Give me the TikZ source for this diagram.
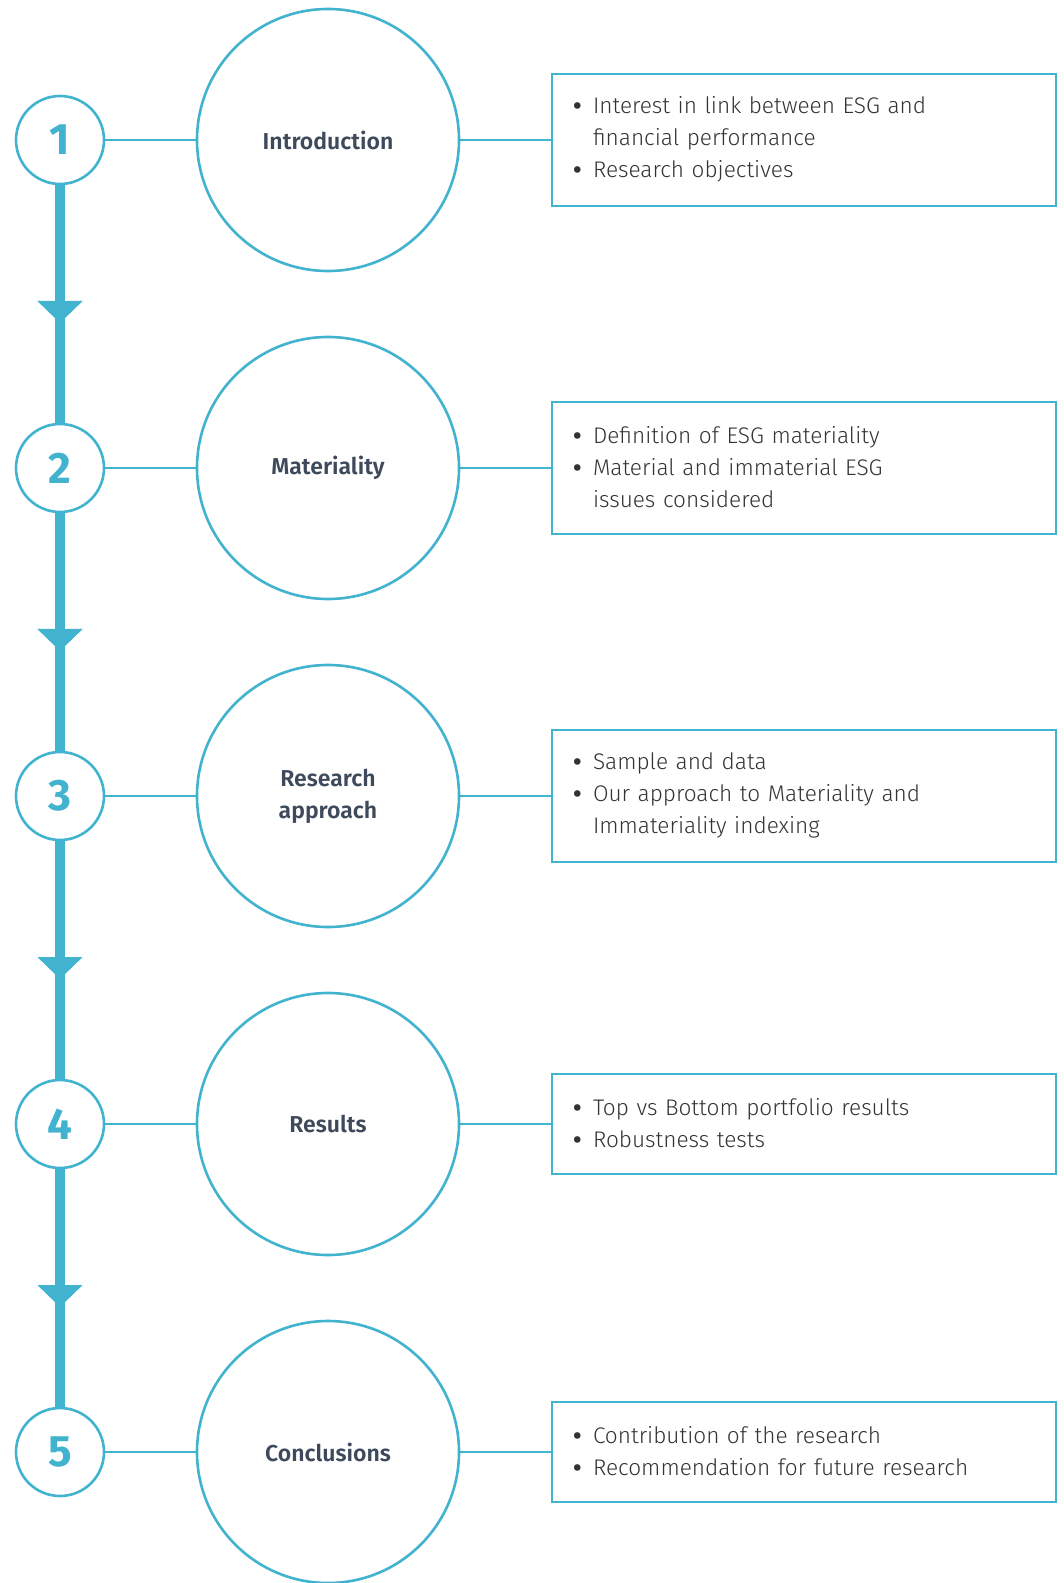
\documentclass[tikz,border=0pt]{standalone}
\usepackage{fontspec}
\setmainfont{Fira Sans}
\newfontfamily\lightfont{Fira Sans Light}
\newfontfamily\semifont{Fira Sans SemiBold}
\usetikzlibrary{arrows.meta,decorations.markings}

\definecolor{esgblue}{HTML}{41B3CE}
\definecolor{slate}{HTML}{3E4A5B}
\definecolor{bodytext}{HTML}{333333}

\def\rowsep{328}
\newcommand{\bitem}[1]{\par\noindent\hangindent=10pt\hangafter=1\makebox[10pt][l]{\raisebox{-0.2pt}{\fontsize{12.5}{16}\semifont\textbullet}}#1\par}

\begin{document}
\begin{tikzpicture}[x=0.5pt,y=-0.5pt]
    \tikzstyle{number}=[circle,draw=esgblue,line width=1.3pt,minimum size=44pt,inner sep=0pt,text=esgblue,font=\bfseries\fontsize{22}{22}\selectfont]
    \tikzstyle{topic}=[circle,draw=esgblue,line width=1.3pt,minimum size=131pt,inner sep=0pt,align=center,text=slate,font=\semifont\fontsize{11.5}{16}\selectfont]
    \tikzstyle{detail}=[rectangle,draw=esgblue,line width=1.1pt,text width=231pt,inner xsep=10.5pt,inner ysep=0pt,text=bodytext,font=\lightfont\fontsize{11.3}{16}\selectfont\raggedright]
    \tikzstyle{link}=[draw=esgblue,line width=1pt]
    \tikzstyle{flow}=[draw=esgblue,line width=5.3pt,postaction={decorate},
        decoration={markings,mark=at position 0.58 with {\arrow{Triangle[length=11pt,width=22pt]}}}]

    \useasboundingbox (0,0) rectangle (1064,1583);

    % Draw the steps: number, topic circle and details box
    \foreach \n/\title/\h/\items in {
        1/Introduction/66/{\bitem{Interest in link between ESG and\newline financial performance}\bitem{Research objectives}},
        2/Materiality/66/{\bitem{Definition of ESG materiality}\bitem{Material and immaterial ESG\newline issues considered}},
        3/{Research\\approach}/66/{\bitem{Sample and data}\bitem{Our approach to Materiality and\newline Immateriality indexing}},
        4/Results/50/{\bitem{Top vs Bottom portfolio results}\bitem{Robustness tests}},
        5/Conclusions/50/{\bitem{Contribution of the research}\bitem{Recommendation for future research}}}
    {
        \pgfmathsetmacro{\y}{140+(\n-1)*\rowsep}
        \node[number] (N-\n) at (60,\y) {\n};
        \node[topic] (T-\n) at (328,\y) {\title};
        \node[detail,minimum height=\h pt] (D-\n) at (804,\y) {\vspace*{-8pt}\items};
    }

    % Connect number, topic and details on each row
    \foreach \n in {1,...,5}
        \draw[link] (N-\n) -- (T-\n) (T-\n) -- (D-\n);

    % Arrows down the timeline
    \foreach \n [count=\m from 2] in {1,...,4}
        \draw[flow] (N-\n) -- (N-\m);
\end{tikzpicture}
\end{document}
